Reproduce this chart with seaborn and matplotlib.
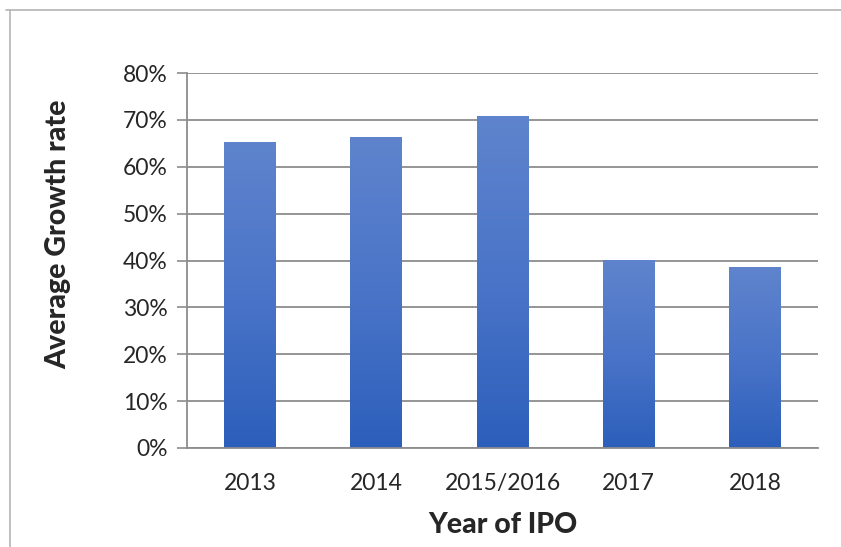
import matplotlib
matplotlib.use("Agg")
import matplotlib.pyplot as plt
import numpy as np
import pandas as pd
import seaborn as sns
from matplotlib.lines import Line2D
from matplotlib.colors import LinearSegmentedColormap
from matplotlib.ticker import FuncFormatter, FixedLocator

years = ["2013", "2014", "2015/2016", "2017", "2018"]
growth = [0.653, 0.663, 0.708, 0.401, 0.386]
y_ticks = [0.0, 0.1, 0.2, 0.3, 0.4, 0.5, 0.6, 0.7, 0.8]

df = pd.DataFrame({"year": years, "growth": growth})

sns.set_style("white")
plt.rcParams["font.family"] = ["Lato", "DejaVu Sans"]

fig = plt.figure(figsize=(8.41, 5.47), dpi=100)
ax = fig.add_axes([187/841, 1-448/547, (818-187)/841, (448-73)/547])

sns.barplot(data=df, x="year", y="growth", ax=ax, width=0.41, color="#3d6cc4")

# gradient fill on each bar
grad = LinearSegmentedColormap.from_list("g", ["#2c5fbb", "#4a74c8", "#5f84cd"])
for p in ax.patches:
    x0, y0 = p.get_x(), p.get_y()
    w, h = p.get_width(), p.get_height()
    img = ax.imshow(np.linspace(0, 1, 256).reshape(-1, 1), cmap=grad, origin="lower",
                    extent=[x0, x0 + w, y0, y0 + h], aspect="auto", zorder=2)
    img.set_clip_path(p)
    p.set_alpha(0)

ax.set_xlim(-0.5, len(years) - 0.5)
ax.set_ylim(0, 0.8)
ax.set_yticks(y_ticks)
ax.yaxis.set_major_formatter(FuncFormatter(lambda v, _: f"{v*100:.0f}%"))
ax.grid(axis="y", color="#8c8c8c", linewidth=1.3)
ax.set_axisbelow(True)

# x ticks at category boundaries, labels at centers
ax.xaxis.set_major_locator(FixedLocator(np.arange(-0.5, len(years), 1.0)))
ax.xaxis.set_minor_locator(FixedLocator(np.arange(len(years))))
ax.set_xticklabels([""] * (len(years) + 1))
ax.set_xticklabels(years, minor=True)
ax.tick_params(axis="x", which="major", length=7, width=1.2, color="#8c8c8c", direction="out")
ax.tick_params(axis="x", which="minor", length=0, labelsize=16.5, colors="#262626", pad=18)
ax.tick_params(axis="y", length=7, width=1.2, color="#8c8c8c", labelsize=16.5,
               labelcolor="#262626", pad=7, left=True)

for s in ["top", "right"]:
    ax.spines[s].set_visible(False)
for s in ["left", "bottom"]:
    ax.spines[s].set_color("#8c8c8c")
    ax.spines[s].set_linewidth(1.3)

ax.set_xlabel("Year of IPO", fontsize=20.5, fontweight="black", color="#262626", labelpad=13)
ax.set_ylabel("Average Growth rate", fontsize=20.5, fontweight="black", color="#262626")
ax.yaxis.set_label_coords(-0.183, 0.57)

# chart frame
fig.add_artist(Line2D([6/841, 1], [1-10/547, 1-10/547], color="#b4b4b4", lw=1.2))
fig.add_artist(Line2D([10/841, 10/841], [0, 1-10/547], color="#b4b4b4", lw=1.2))

fig.savefig("out.png", dpi=100)
